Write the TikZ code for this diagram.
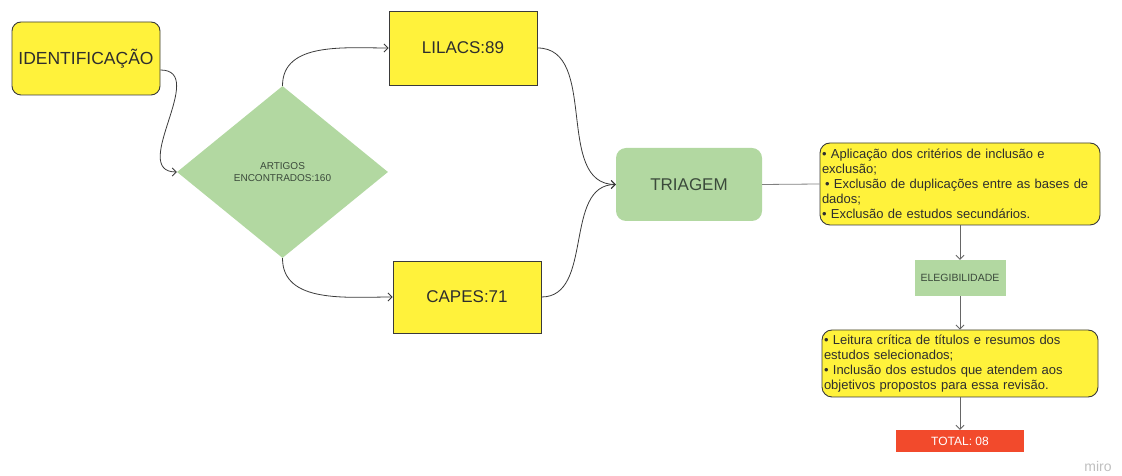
\documentclass[tikz,border=0pt]{standalone}
\usepackage{fontspec}
\setmainfont{Liberation Sans}
\usetikzlibrary{shapes.geometric,arrows.meta}
\definecolor{boxyellow}{HTML}{FFF23B}
\definecolor{boxgreen}{HTML}{B2D8A1}
\definecolor{boxred}{HTML}{F24A2C}
\definecolor{lineclr}{HTML}{3A3A3A}
\definecolor{textclr}{HTML}{2E2E2E}
\definecolor{greentext}{HTML}{3B4A3B}
\tikzset{
  yellowbox/.style={draw=lineclr, line width=0.9pt, fill=boxyellow, text=textclr, inner sep=0pt},
  greenbox/.style={fill=boxgreen, text=greentext, inner sep=0pt},
  listbox/.style={yellowbox, rounded corners=10pt, align=left, inner xsep=2pt,
    font=\fontsize{13}{15}\selectfont},
  conn/.style={draw=lineclr, line width=0.8pt},
}
\begin{document}
\begin{tikzpicture}[x=1pt,y=1pt,>={Straight Barb[length=4pt,width=8pt]}]
    \useasboundingbox (0,0) rectangle (1122,476);
    % Identification and search
    \node[yellowbox, rounded corners=9pt, minimum width=148pt, minimum height=73pt,
          font=\fontsize{17.5}{20}\selectfont] (ident) at (86,417.5) {IDENTIFICAÇÃO};
    \node[greenbox, diamond, minimum width=211pt, minimum height=172pt, align=center,
          font=\fontsize{10}{12}\selectfont] (artigos) at (282.5,304) {ARTIGOS\\ENCONTRADOS:160};
    % Databases
    \node[yellowbox, minimum width=148pt, minimum height=74pt,
          font=\fontsize{17}{20}\selectfont] (lilacs) at (463,428) {LILACS:89};
    \node[yellowbox, minimum width=148pt, minimum height=72pt,
          font=\fontsize{17}{20}\selectfont] (capes) at (467,179) {CAPES:71};
    % Screening
    \node[greenbox, rounded corners=10pt, minimum width=146pt, minimum height=73pt,
          font=\fontsize{17}{20}\selectfont] (triagem) at (689,291.5) {TRIAGEM};
    \node[listbox, text width=276pt, minimum height=82pt] (aplic) at (960,292)
        {• Aplicação dos critérios de inclusão e\\exclusão;\\\hspace*{3pt}• Exclusão de duplicações entre as bases de\\dados;\\• Exclusão de estudos secundários.};
    \node[greenbox, minimum width=91pt, minimum height=36pt,
          font=\fontsize{10.5}{12}\selectfont] (eleg) at (960,198) {ELEGIBILIDADE};
    \node[listbox, text width=272pt, minimum height=67pt] (leitura) at (960,112.5)
        {• Leitura crítica de títulos e resumos dos\\estudos selecionados;\\• Inclusão dos estudos que atendem aos\\objetivos propostos para essa revisão.};
    \node[fill=boxred, text=white, minimum width=128pt, minimum height=22pt, inner sep=0pt,
          font=\fontsize{12}{14}\selectfont] (total) at (960,35) {TOTAL: 08};
    \node[text=gray!50, font=\fontsize{14}{14}\selectfont] (miro) at (1098,10) {miro};
    % Connectors
    \draw[conn,->] ([yshift=-11.5pt]ident.east) to[out=0,in=180,looseness=1.2] (artigos.west);
    \draw[conn,->] (artigos.north) to[out=90,in=180] (lilacs.west);
    \draw[conn,->] (artigos.south) to[out=270,in=180] (capes.west);
    \draw[conn,->] (lilacs.east) to[out=0,in=180] (triagem.west);
    \draw[conn,->] (capes.east) to[out=0,in=180] (triagem.west);
    \draw[conn, draw=gray] (triagem.east) -- (aplic.west);
    \draw[conn, draw=gray!80!black,->] (aplic.south) -- (eleg.north);
    \draw[conn, draw=gray!80!black,->] (eleg.south) -- (leitura.north);
    \draw[conn, draw=gray!80!black,->] (leitura.south) -- (total.north);
\end{tikzpicture}
\end{document}
